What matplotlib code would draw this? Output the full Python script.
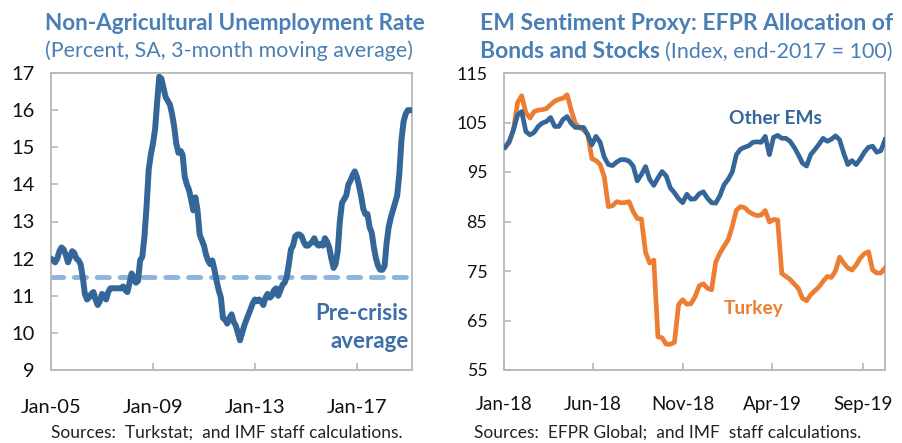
import numpy as np
import pandas as pd
import matplotlib
matplotlib.use("Agg")
import matplotlib.pyplot as plt
import matplotlib.dates as mdates

plt.rcParams["font.family"] = ["Lato", "DejaVu Sans"]

# ---- Data ----
# Turkey non-agricultural unemployment rate, monthly from Jan-2005
unemp = [
    12.0, 11.95, 11.9, 12.0, 12.2, 12.3, 12.25, 12.1, 11.9, 12.05, 12.2, 12.15,
    12.0, 11.95, 11.85, 11.5, 11.05, 10.9, 10.95, 11.05, 11.1, 10.9, 10.75, 10.85,
    11.05, 11.0, 10.9, 11.1, 11.2, 11.2, 11.2, 11.2, 11.2, 11.2, 11.25, 11.15,
    11.1, 11.35, 11.6, 11.5, 11.35, 11.4, 11.95, 12.05, 12.6, 13.4, 14.4, 14.8,
    15.1, 15.5, 16.2, 16.9, 16.85, 16.6, 16.35, 16.25, 16.15, 15.9, 15.55, 15.1,
    14.85, 14.9, 14.8, 14.2, 14.0, 13.85, 13.6, 13.3, 13.65, 13.3, 12.65, 12.5,
    12.35, 12.1, 11.95, 11.85, 11.95, 11.7, 11.4, 11.15, 10.95, 10.4, 10.35, 10.25,
    10.4, 10.5, 10.3, 10.2, 10.0, 9.8, 10.0, 10.2, 10.35, 10.5, 10.65, 10.8,
    10.9, 10.85, 10.9, 10.85, 10.75, 10.95, 11.05, 10.95, 11.0, 11.15, 11.2, 11.0,
    11.15, 11.3, 11.35, 11.5, 11.85, 12.25, 12.35, 12.6, 12.65, 12.65, 12.6, 12.45,
    12.35, 12.35, 12.4, 12.45, 12.55, 12.4, 12.35, 12.4, 12.35, 12.55, 12.45, 12.3,
    12.0, 11.75, 11.85, 12.2, 13.0, 13.5, 13.6, 13.7, 14.0, 14.1, 14.25, 14.35,
    14.2, 13.95, 13.7, 13.35, 13.2, 13.2, 12.85, 12.7, 12.3, 12.0, 11.8, 11.7,
    11.7, 11.8, 12.4, 12.85, 13.1, 13.3, 13.5, 13.7, 14.3, 15.2, 15.7, 15.9,
    16.0, 16.0, 16.0,
]
precrisis_avg = 11.5
unemp_dates = pd.date_range("2005-01-01", periods=len(unemp), freq="MS")
left_ticks = ["2005-01-01", "2009-01-01", "2013-01-01", "2017-01-01"]

# EFPR allocation index (end-2017 = 100), weekly
other_ems = [
    100.0, 101.2, 103.5, 106.5, 107.2, 103.2, 102.5, 103.0, 104.2, 104.9,
    105.2, 106.0, 104.2, 104.2, 105.6, 106.2, 104.8, 104.0, 104.0, 104.0,
    102.5, 100.5, 102.2, 101.0, 98.0, 96.5, 96.3, 97.0, 97.5, 97.5,
    97.2, 96.2, 93.2, 94.5, 96.1, 93.5, 92.3, 93.8, 95.1, 94.2,
    91.8, 90.8, 89.6, 88.8, 90.5, 89.5, 89.6, 90.6, 91.0, 89.7,
    88.8, 88.7, 90.2, 92.4, 93.5, 95.0, 98.5, 99.6, 100.0, 100.3,
    101.0, 101.1, 101.0, 102.2, 98.5, 102.0, 102.4, 101.8, 101.8, 101.2,
    100.0, 98.5, 96.8, 96.2, 98.5, 99.5, 100.6, 101.8, 101.2, 101.6,
    102.3, 101.5, 98.8, 96.5, 97.3, 96.5, 97.6, 99.0, 100.0, 100.2,
    99.0, 99.3, 101.5,
]
turkey = [
    100.0, 101.0, 103.5, 109.0, 110.4, 107.0, 105.9, 107.2, 107.5, 107.6,
    107.8, 108.6, 109.3, 109.7, 109.9, 110.6, 107.5, 104.8, 104.0, 103.5,
    102.6, 97.7, 97.3, 96.5, 94.0, 88.0, 88.2, 89.0, 88.8, 88.8,
    89.0, 87.0, 85.6, 85.5, 78.8, 76.6, 77.2, 61.7, 61.5, 60.2,
    60.2, 60.6, 68.2, 69.2, 68.3, 68.4, 69.8, 72.0, 72.4, 71.5,
    71.2, 76.8, 78.6, 80.0, 81.3, 84.0, 87.3, 88.0, 87.8, 87.0,
    86.5, 86.2, 86.3, 87.2, 84.9, 85.4, 85.3, 74.5, 73.9, 73.3,
    72.4, 71.5, 69.5, 69.0, 70.2, 71.0, 71.8, 72.9, 73.9, 73.7,
    75.0, 77.8, 76.6, 75.6, 75.2, 76.2, 77.6, 78.5, 78.9, 75.2,
    74.6, 74.6, 75.6,
]
efpr_dates = pd.date_range("2018-01-03", periods=len(turkey), freq="7D")
right_ticks = ["2018-01-01", "2018-06-01", "2018-11-01", "2019-04-01", "2019-09-01"]

# ---- Style ----
BLUE = "#346699"
ORANGE = "#ed7d31"
LIGHT = "#8db4dc"
TITLE = "#4a7fb5"
GRID = "#b7b7b7"

fig = plt.figure(figsize=(9.02, 4.43), dpi=100)
ax1 = fig.add_axes([51/902, 1-370/443, (412-51)/902, (370-73)/443])
ax2 = fig.add_axes([504/902, 1-370/443, (885-504)/902, (370-73)/443])

for ax in (ax1, ax2):
    for sp in ax.spines.values():
        sp.set_color(GRID)
        sp.set_linewidth(1.3)
    ax.tick_params(direction="in", color=GRID, width=1.2, length=5,
                   labelcolor="#111111")
    ax.xaxis.set_major_formatter(mdates.DateFormatter("%b-%y"))

# Left panel
ax1.plot(unemp_dates, unemp, color=BLUE, lw=4.3, solid_joinstyle="round",
         solid_capstyle="round", zorder=3)
ax1.axhline(precrisis_avg, color=LIGHT, lw=3.5, dashes=(2.5, 2.2),
            dash_capstyle="round", zorder=2)
ax1.set_xlim(unemp_dates[0], unemp_dates[-1])
ax1.set_ylim(9, 17)
ax1.set_yticks(range(9, 18))
ax1.set_xticks(pd.to_datetime(left_ticks))
ax1.tick_params(axis="y", labelsize=14.5, pad=12)
ax1.tick_params(axis="x", labelsize=14.5, pad=21)
ax1.text(0.99, 0.19, "Pre-crisis", transform=ax1.transAxes, ha="right",
         va="center", color="#3d6fa6", fontsize=16, fontweight="bold")
ax1.text(0.99, 0.095, "average", transform=ax1.transAxes, ha="right",
         va="center", color="#3d6fa6", fontsize=16, fontweight="bold")

fig.text(45/902, 1-24/443, "Non-Agricultural Unemployment Rate", color=TITLE,
         fontsize=16.2, fontweight="bold", va="center", ha="left")
fig.text(45/902, 1-51/443, "(Percent, SA, 3-month moving average)", color=TITLE,
         fontsize=15.4, va="center", ha="left")
fig.text(227/902, 1-433/443, "Sources:  Turkstat;  and IMF staff calculations.",
         color="#222222", fontsize=12.5, va="center", ha="center")

# Right panel
ax2.plot(efpr_dates, turkey, color=ORANGE, lw=3.4, solid_joinstyle="round", zorder=3)
ax2.plot(efpr_dates, other_ems, color=BLUE, lw=3.4, solid_joinstyle="round", zorder=4)
ax2.set_xlim(pd.Timestamp("2018-01-01"), efpr_dates[-1])
ax2.set_ylim(55, 115)
ax2.set_yticks(range(55, 116, 10))
ax2.set_xticks(pd.to_datetime(right_ticks))
ax2.tick_params(axis="y", labelsize=12.8, pad=12)
ax2.tick_params(axis="x", labelsize=13.5, pad=19)
ax2.text(pd.Timestamp("2019-04-06"), 105.8, "Other EMs", color=BLUE,
         fontsize=13.8, fontweight="bold", ha="center", va="center")
ax2.text(pd.Timestamp("2019-03-01"), 67.4, "Turkey", color=ORANGE,
         fontsize=13.8, fontweight="bold", ha="center", va="center")

fig.text(480/902, 1-23/443, "EM Sentiment Proxy: EFPR Allocation of", color=TITLE,
         fontsize=16.5, fontweight="bold", va="center", ha="left")
t = fig.text(480/902, 1-52/443, "Bonds and Stocks", color=TITLE,
             fontsize=16.5, fontweight="bold", va="center", ha="left")
fig.canvas.draw()
bb = t.get_window_extent()
fig.text(bb.x1/902 + 0.005, 1-52/443, "(Index, end-2017 = 100)", color=TITLE,
         fontsize=15.4, va="center", ha="left")
fig.text(668/902, 1-433/443, "Sources:  EFPR Global;  and IMF  staff calculations.",
         color="#222222", fontsize=12.5, va="center", ha="center")

fig.savefig("out.png", dpi=100)
